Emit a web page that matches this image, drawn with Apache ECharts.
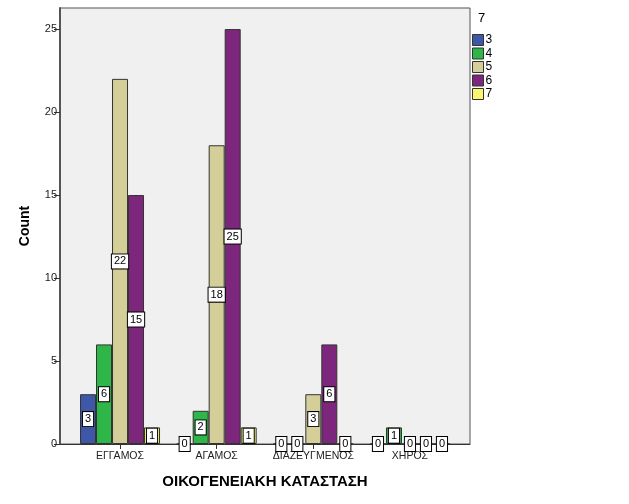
<!DOCTYPE html>
<html><head><meta charset="utf-8">
<script src="https://cdn.jsdelivr.net/npm/echarts@6/dist/echarts.min.js"></script>
<style>html,body{margin:0;padding:0;background:#fff}#c{width:629px;height:504px}</style>
</head><body><div id="c"></div>
<script>
const categories = ['ΕΓΓΑΜΟΣ', 'ΑΓΑΜΟΣ', 'ΔΙΑΖΕΥΓΜΕΝΟΣ', 'ΧΗΡΟΣ'];
const seriesNames = ['3', '4', '5', '6', '7'];
const s3 = [3, 0, 0, 0];
const s4 = [6, 2, 0, 1];
const s5 = [22, 18, 3, 0];
const s6 = [15, 25, 6, 0];
const s7 = [1, 1, 0, 0];
const colors = ['#3F57A9', '#2EB648', '#D4CF98', '#7D277C', '#FAF670'];
const allData = [s3, s4, s5, s6, s7];
const yTicks = [0, 5, 10, 15, 20, 25];

const font = 'Liberation Sans, Arial, sans-serif';
const chart = echarts.init(document.getElementById('c'), null, {renderer: 'canvas'});
const yMax = 26.27;
const series = seriesNames.map((n, i) => ({
  name: n, type: 'bar', xAxisIndex: 1, yAxisIndex: 1,
  data: allData[i], barWidth: 16, barGap: '0%',
  itemStyle: {color: colors[i], borderColor: '#333', borderWidth: 1},
  label: {show: true, position: 'inside', color: '#000', fontFamily: font, fontSize: 11,
    backgroundColor: '#fff', borderColor: '#000', borderWidth: 1, padding: [2, 2, 1, 2]},
  z: 3
}));
chart.setOption({
  animation: false,
  textStyle: {fontFamily: font},
  grid: [
    {left: 60, right: 159, top: 8, bottom: 60, show: true, backgroundColor: '#F0F0F0', borderColor: '#555', borderWidth: 1},
    {left: 71.7, right: 170.7, top: 8, bottom: 60}
  ],
  xAxis: [
    {type: 'category', gridIndex: 0, data: categories, axisLabel: {show: false}, axisTick: {show: false},
     axisLine: {lineStyle: {color: '#333', width: 1}},
     name: 'ΟΙΚΟΓΕΝΕΙΑΚΗ ΚΑΤΑΣΤΑΣΗ', nameLocation: 'middle', nameGap: 30,
     nameTextStyle: {fontFamily: font, fontSize: 15, fontWeight: 'bold', color: '#000'}},
    {type: 'category', gridIndex: 1, data: categories, axisLine: {show: false},
     axisTick: {show: true, alignWithLabel: true, length: 5, interval: 0, lineStyle: {color: '#333'}},
     axisLabel: {fontFamily: font, fontSize: 10.5, color: '#222', margin: 7, interval: 0}}
  ],
  yAxis: [
    {type: 'value', gridIndex: 0, min: 0, max: yMax,
     axisLine: {show: true, lineStyle: {color: '#555', width: 2}},
     axisTick: {show: true, length: 6, customValues: yTicks, lineStyle: {color: '#333'}},
     axisLabel: {fontFamily: font, fontSize: 11, color: '#222', margin: 3, customValues: yTicks},
     splitLine: {show: false},
     name: 'Count', nameLocation: 'middle', nameGap: 28, nameRotate: 90,
     nameTextStyle: {fontFamily: font, fontSize: 14, fontWeight: 'bold', color: '#000'}},
    {type: 'value', gridIndex: 1, min: 0, max: yMax, show: false, splitLine: {show: false}}
  ],
  legend: {
    orient: 'vertical', left: 472, top: 34, itemWidth: 11, itemHeight: 11, itemGap: 1.5,
    icon: 'rect', data: seriesNames, padding: 0,
    textStyle: {fontFamily: font, fontSize: 12, color: '#000', padding: [0, 0, 0, -3]},
    itemStyle: {borderColor: '#333', borderWidth: 1}
  },
  graphic: [{type: 'text', left: 478, top: 12, style: {text: '7', font: '13px ' + font, fill: '#000'}}],
  series: series
});
</script></body></html>
